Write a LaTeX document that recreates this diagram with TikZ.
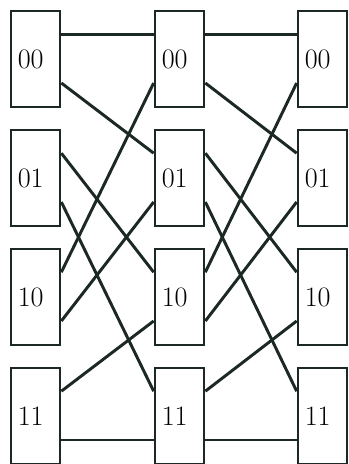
\documentclass[tikz,border=0pt]{standalone}
\usepackage{tikz}
\definecolor{ink}{RGB}{28,40,36}

\begin{document}
\begin{tikzpicture}[x=0.025cm, y=-0.025cm,
  every node/.style={font=\fontsize{20}{24}\selectfont},
  cell/.style={draw=ink, line width=1.9pt, minimum height=2.4cm, inner xsep=0.17cm, text width=0.885cm, align=left},
  wire/.style={draw=ink, line width=2.1pt},
  hiport/.style={yshift=0.62cm},
  loport/.style={yshift=-0.6cm}]
\useasboundingbox (0,0) rectangle (348,464);

%first column
\path (35.5,59) node[cell] (a00) {00};
\path (35.5,178) node[cell] (a01) {01};
\path (35.5,297) node[cell] (a10) {10};
\path (35.5,416) node[cell] (a11) {11};

%second column
\path (179.5,59) node[cell] (b00) {00};
\path (179.5,178) node[cell] (b01) {01};
\path (179.5,297) node[cell] (b10) {10};
\path (179.5,416) node[cell] (b11) {11};

%third column
\path (322.5,59) node[cell] (c00) {00};
\path (322.5,178) node[cell] (c01) {01};
\path (322.5,297) node[cell] (c10) {10};
\path (322.5,416) node[cell] (c11) {11};

\draw[wire] ([hiport]a00.east) -- ([hiport]b00.west);
\draw[wire] ([loport]a00.east) -- ([hiport]b01.west);
\draw[wire] ([hiport]a01.east) -- ([hiport]b10.west);
\draw[wire] ([loport]a01.east) -- ([hiport]b11.west);
\draw[wire] ([hiport]a10.east) -- ([loport]b00.west);
\draw[wire] ([loport]a10.east) -- ([loport]b01.west);
\draw[wire] ([hiport]a11.east) -- ([loport]b10.west);
\draw[wire] ([loport]a11.east) -- ([loport]b11.west);

\draw[wire] ([hiport]b00.east) -- ([hiport]c00.west);
\draw[wire] ([loport]b00.east) -- ([hiport]c01.west);
\draw[wire] ([hiport]b01.east) -- ([hiport]c10.west);
\draw[wire] ([loport]b01.east) -- ([hiport]c11.west);
\draw[wire] ([hiport]b10.east) -- ([loport]c00.west);
\draw[wire] ([loport]b10.east) -- ([loport]c01.west);
\draw[wire] ([hiport]b11.east) -- ([loport]c10.west);
\draw[wire] ([loport]b11.east) -- ([loport]c11.west);
\end{tikzpicture}
\end{document}
